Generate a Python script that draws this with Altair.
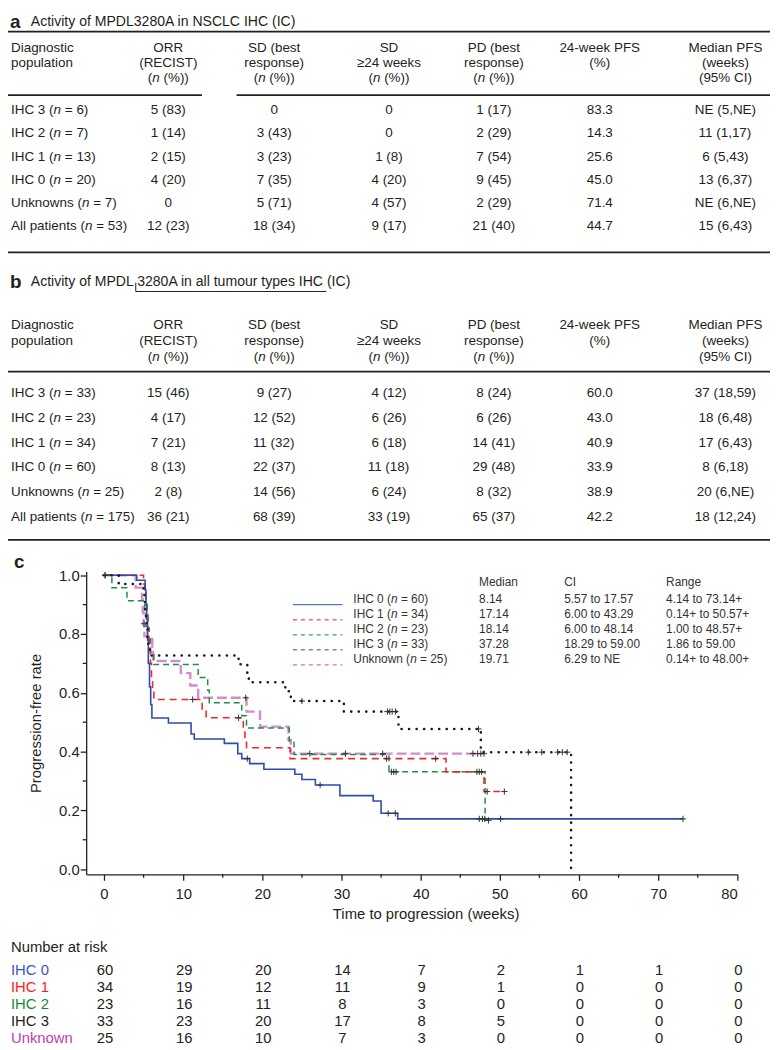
import re
import altair as alt
import pandas as pd

# ---------------- data: table a ----------------
A_TITLE = "Activity of MPDL3280A in NSCLC IHC (IC)"
A_LABELS = ["IHC 3 (n = 6)", "IHC 2 (n = 7)", "IHC 1 (n = 13)", "IHC 0 (n = 20)",
            "Unknowns (n = 7)", "All patients (n = 53)"]
A_ORR = ["5 (83)", "1 (14)", "2 (15)", "4 (20)", "0", "12 (23)"]
A_SD = ["0", "3 (43)", "3 (23)", "7 (35)", "5 (71)", "18 (34)"]
A_SD24 = ["0", "0", "1 (8)", "4 (20)", "4 (57)", "9 (17)"]
A_PD = ["1 (17)", "2 (29)", "7 (54)", "9 (45)", "2 (29)", "21 (40)"]
A_PFS24 = ["83.3", "14.3", "25.6", "45.0", "71.4", "44.7"]
A_MED = ["NE (5,NE)", "11 (1,17)", "6 (5,43)", "13 (6,37)", "NE (6,NE)", "15 (6,43)"]

# ---------------- data: table b ----------------
B_TITLE = "Activity of MPDL 3280A in all tumour types IHC (IC)"
B_LABELS = ["IHC 3 (n = 33)", "IHC 2 (n = 23)", "IHC 1 (n = 34)", "IHC 0 (n = 60)",
            "Unknowns (n = 25)", "All patients (n = 175)"]
B_ORR = ["15 (46)", "4 (17)", "7 (21)", "8 (13)", "2 (8)", "36 (21)"]
B_SD = ["9 (27)", "12 (52)", "11 (32)", "22 (37)", "14 (56)", "68 (39)"]
B_SD24 = ["4 (12)", "6 (26)", "6 (18)", "11 (18)", "6 (24)", "33 (19)"]
B_PD = ["8 (24)", "6 (26)", "14 (41)", "29 (48)", "8 (32)", "65 (37)"]
B_PFS24 = ["60.0", "43.0", "40.9", "33.9", "38.9", "42.2"]
B_MED = ["37 (18,59)", "18 (6,48)", "17 (6,43)", "8 (6,18)", "20 (6,NE)", "18 (12,24)"]

HEADERS = [["Diagnostic", "population"],
           ["ORR", "(RECIST)", "(n (%))"],
           ["SD (best", "response)", "(n (%))"],
           ["SD", "\u226524 weeks", "(n (%))"],
           ["PD (best", "response)", "(n (%))"],
           ["24-week PFS", "(%)"],
           ["Median PFS", "(weeks)", "(95% CI)"]]

# ---------------- data: Kaplan-Meier (weeks, progression-free rate) ----------------
GROUPS = ["IHC 0", "IHC 1", "IHC 2", "IHC 3", "Unknown"]

IHC0_T = [0, 4.14, 5.2, 5.3, 5.4, 5.5, 5.6, 5.75, 5.9, 6.05, 8.14, 11.0, 11.4, 15.2, 16.9, 17.4,
          18.4, 20.2, 24.1, 25.0, 26.7, 29.8, 34.0, 35.0, 37.1, 73.14]
IHC0_S = [1.0, 0.983, 0.95, 0.90, 0.85, 0.78, 0.70, 0.62, 0.56, 0.514, 0.497, 0.46, 0.443, 0.428,
          0.393, 0.376, 0.359, 0.340, 0.323, 0.305, 0.286, 0.250, 0.232, 0.190, 0.171, 0.171]
IHC0_CT = [18.1, 27.3, 35.9, 36.8, 47.4, 47.8, 48.1, 50.1, 73.14]
IHC0_CS = [0.376, 0.286, 0.190, 0.190, 0.171, 0.171, 0.171, 0.171, 0.171]

IHC1_T = [0, 5.0, 5.14, 5.29, 5.43, 5.57, 5.71, 5.86, 6.0, 6.14, 6.3, 12.4, 12.9, 17.6, 17.8,
          18.0, 23.5, 43.2, 48.0, 50.57]
IHC1_S = [1.0, 0.97, 0.94, 0.91, 0.88, 0.82, 0.76, 0.70, 0.65, 0.607, 0.577, 0.545, 0.515, 0.48,
          0.445, 0.413, 0.376, 0.331, 0.264, 0.264]
IHC1_CT = [0.14, 11.2, 17.0, 35.7, 41.9, 48.4, 50.57]
IHC1_CS = [1.0, 0.577, 0.515, 0.376, 0.376, 0.264, 0.264]

IHC2_T = [0, 1.0, 2.9, 5.14, 5.29, 5.5, 5.86, 6.3, 11.9, 13.1, 13.3, 17.4, 18.0, 23.4, 24.0,
          36.0, 48.14, 48.57]
IHC2_S = [1.0, 0.957, 0.913, 0.87, 0.826, 0.783, 0.739, 0.696, 0.652, 0.609, 0.566, 0.522, 0.48,
          0.435, 0.39, 0.331, 0.166, 0.166]
IHC2_CT = [36.3, 36.6, 36.9, 47.1, 47.4, 47.7, 48.57]
IHC2_CS = [0.331, 0.331, 0.331, 0.331, 0.331, 0.331, 0.166]

IHC3_T = [0, 1.86, 5.0, 5.1, 5.2, 5.3, 5.4, 5.5, 5.6, 5.8, 17.0, 18.1, 18.3, 22.9, 23.6, 30.3,
          37.2, 47.6, 59.0]
IHC3_S = [1.0, 0.97, 0.939, 0.909, 0.879, 0.848, 0.818, 0.788, 0.758, 0.727, 0.697, 0.667, 0.636,
          0.605, 0.572, 0.536, 0.477, 0.398, 0.0]
IHC3_CT = [5.05, 25.0, 35.8, 36.1, 36.4, 36.8, 47.3, 53.6, 55.3, 57.3, 57.9, 58.5]
IHC3_CS = [0.835, 0.572, 0.536, 0.536, 0.536, 0.536, 0.477, 0.398, 0.398, 0.398, 0.398, 0.398]

UNK_T = [0, 4.0, 4.8, 4.9, 5.0, 5.1, 6.1, 6.2, 9.7, 10.9, 11.9, 18.0, 19.71, 23.3, 23.6, 48.0]
UNK_S = [1.0, 0.958, 0.917, 0.875, 0.833, 0.792, 0.75, 0.708, 0.667, 0.625, 0.583, 0.536, 0.485,
         0.44, 0.393, 0.393]
UNK_CT = [0.14, 17.9, 26.0, 30.5, 35.2, 46.6, 47.2, 47.6, 48.0]
UNK_CS = [1.0, 0.583, 0.393, 0.393, 0.393, 0.393, 0.393, 0.393, 0.393]

LEG_LABELS = ["IHC 0 (n = 60)", "IHC 1 (n = 34)", "IHC 2 (n = 23)", "IHC 3 (n = 33)", "Unknown (n = 25)"]
LEG_MEDIAN = ["8.14", "17.14", "18.14", "37.28", "19.71"]
LEG_CI = ["5.57 to 17.57", "6.00 to 43.29", "6.00 to 48.14", "18.29 to 59.00", "6.29 to NE"]
LEG_RANGE = ["4.14 to 73.14+", "0.14+ to 50.57+", "1.00 to 48.57+", "1.86 to 59.00", "0.14+ to 48.00+"]

# ---------------- data: number at risk ----------------
RISK_TIMES = [0, 10, 20, 30, 40, 50, 60, 70, 80]
RISK_IHC0 = [60, 29, 20, 14, 7, 2, 1, 1, 0]
RISK_IHC1 = [34, 19, 12, 11, 9, 1, 0, 0, 0]
RISK_IHC2 = [23, 16, 11, 8, 3, 0, 0, 0, 0]
RISK_IHC3 = [33, 23, 20, 17, 8, 5, 0, 0, 0]
RISK_UNK = [25, 16, 10, 7, 3, 0, 0, 0, 0]

# ---------------- layout / style ----------------
FONT = "Liberation Sans"
INK = "#231f20"
PX0, PY0 = 87, 572          # page position of the plot area's top-left corner
W, H = 658, 306             # plot area size
X_DOM = [-2.25, 80]
Y_DOM = [-0.0178, 1.0125]
COL_X = [11, 170, 277, 393, 499, 606, 733]
T_SIZE = 13.6
RISK_LABEL_COLORS = ["#3a55c0", "#ff1a1a", "#13893a", INK, "#c040ae"]

AW = {' ': 278, '!': 278, '(': 333, ')': 333, '+': 584, ',': 278, '-': 333, '.': 278, '/': 278,
      '=': 584, '%': 889, '\u2265': 549,
      'A': 667, 'B': 667, 'C': 722, 'D': 722, 'E': 667, 'F': 611, 'G': 778, 'H': 722, 'I': 278,
      'K': 667, 'L': 556, 'M': 833, 'N': 722, 'O': 778, 'P': 667, 'R': 722, 'S': 667, 'T': 611,
      'U': 722, 'W': 944,
      'a': 556, 'b': 556, 'c': 500, 'd': 556, 'e': 556, 'f': 278, 'g': 556, 'h': 556, 'i': 222,
      'j': 222, 'k': 500, 'l': 222, 'm': 833, 'n': 556, 'o': 556, 'p': 556, 'q': 556, 'r': 333,
      's': 500, 't': 278, 'u': 556, 'v': 500, 'w': 722, 'x': 500, 'y': 500, 'z': 500}
for _d in "0123456789":
    AW[_d] = 556


def tw(s, size):
    return sum(AW.get(ch, 556) for ch in s) * size / 1000.0


def seg_rows(s, x, y, size, align="left", color=INK, bold=False):
    parts = re.split(r'(?<=\()n(?= )', s)
    segs = []
    for i, p in enumerate(parts):
        if i:
            segs.append(("n", True))
        if p:
            segs.append((p, False))
    total = sum(tw(p, size) for p, _ in segs)
    cur = x if align == "left" else (x - total / 2 if align == "center" else x - total)
    out = []
    for p, it in segs:
        lead = len(p) - len(p.lstrip(' '))
        cur += tw(' ' * lead, size)
        q = p.strip(' ')
        if q:
            out.append(dict(px=cur, py=y, text=q, size=size, color=color, italic=it, bold=bold))
        cur += tw(p.lstrip(' '), size)
    return out


texts = []
rules = []


def add_table(head_y, head_step, row_y, row_step, labels, cols):
    for c, lines in enumerate(HEADERS):
        for k, line in enumerate(lines):
            texts.extend(seg_rows(line, COL_X[c], head_y + k * head_step, T_SIZE,
                                  "left" if c == 0 else "center"))
    for r, lab in enumerate(labels):
        y = row_y + r * row_step
        texts.extend(seg_rows(lab, COL_X[0], y, T_SIZE, "left"))
        for c, col in enumerate(cols, start=1):
            texts.extend(seg_rows(col[r], COL_X[c], y, T_SIZE, "center"))


# panel a
texts.extend(seg_rows("a", 10, 16.5, 19, bold=True))
texts.extend(seg_rows(A_TITLE, 31, 16.5, 14.2))
rules += [(0, 778, 26.5, 26.5, 1.8), (0, 204, 90.5, 90.5, 1.8), (239, 778, 90.5, 90.5, 1.8),
          (0, 778, 249.5, 249.5, 1.8)]
add_table(42.5, 15.6, 106, 23.33, A_LABELS, [A_ORR, A_SD, A_SD24, A_PD, A_PFS24, A_MED])

# panel b
texts.extend(seg_rows("b", 10, 279, 19, bold=True))
texts.extend(seg_rows(B_TITLE, 31, 279, 14.2))
u0 = 31 + tw("Activity of MPDL ", 14.2) - 2
u1 = 31 + tw("Activity of MPDL 3280A in all tumour types IHC", 14.2) + 2
rules += [(u0, u1, 289, 289, 1.0), (u0, u0, 280, 289, 1.0),
          (0, 778, 370, 370, 1.8), (0, 778, 540, 540, 1.8)]
add_table(323.3, 16, 391.7, 25, B_LABELS, [B_ORR, B_SD, B_SD24, B_PD, B_PFS24, B_MED])

# panel c letter, KM legend text, number-at-risk labels
texts.extend(seg_rows("c", 14, 562.5, 19, bold=True))
LEG_X = [357, 484, 570, 673]
for x, h in zip(LEG_X[1:], ["Median", "CI", "Range"]):
    texts.extend(seg_rows(h, x, 582.7, 12, color="#333333"))
for i in range(5):
    y = 600 + 15.2 * i
    for x, s in zip(LEG_X, [LEG_LABELS[i], LEG_MEDIAN[i], LEG_CI[i], LEG_RANGE[i]]):
        texts.extend(seg_rows(s, x, y, 12, color="#333333"))
texts.extend(seg_rows("Number at risk", 11, 951.7, 15))
for i, g in enumerate(GROUPS):
    texts.extend(seg_rows(g, 11, 975 + 17.05 * i, 15, color=RISK_LABEL_COLORS[i]))

tdf = pd.DataFrame(texts)
rdf = pd.DataFrame(rules, columns=["x1", "x2", "y1", "y2", "w"])

# page-pixel layout scales for decorations
XS = alt.Scale(domain=[PX0, PX0 + W], range=[0, W], nice=False, zero=False)
YS = alt.Scale(domain=[PY0, PY0 + H], range=[0, H], nice=False, zero=False)


def text_layer(df, style, weight):
    return alt.Chart(df).mark_text(align="left", baseline="middle", font=FONT,
                                   fontStyle=style, fontWeight=weight).encode(
        x=alt.X("px:Q", scale=XS, axis=None),
        y=alt.Y("py:Q", scale=YS, axis=None),
        text="text:N",
        size=alt.Size("size:Q", scale=None),
        color=alt.Color("color:N", scale=None))


deco_layers = [
    alt.Chart(rdf).mark_rule(color=INK).encode(
        x=alt.X("x1:Q", scale=XS, axis=None), x2="x2:Q",
        y=alt.Y("y1:Q", scale=YS, axis=None), y2="y2:Q",
        strokeWidth=alt.StrokeWidth("w:Q", scale=None)),
    text_layer(tdf[(~tdf.italic) & (~tdf.bold)], "normal", "normal"),
    text_layer(tdf[tdf.italic], "italic", "normal"),
    text_layer(tdf[tdf.bold], "normal", "bold"),
]
LEG_STYLE = [("#5a72c8", [1, 0], 1.3), ("#f06a6a", [4, 4], 1.3), ("#3aa060", [4, 4], 1.3),
             ("#444444", [4, 4], 1.0), ("#d070c8", [4, 4], 1.3)]
for i, (col, dash, wd) in enumerate(LEG_STYLE):
    ldf = pd.DataFrame({"x1": [296], "x2": [346], "y": [605.5 + 15.2 * i]})
    deco_layers.append(alt.Chart(ldf).mark_rule(color=col, strokeDash=dash, strokeWidth=wd).encode(
        x=alt.X("x1:Q", scale=XS, axis=None), x2="x2:Q", y=alt.Y("y:Q", scale=YS, axis=None)))

# ---------------- Kaplan-Meier plot ----------------
XK = alt.Scale(domain=X_DOM, nice=False, zero=False)
YK = alt.Scale(domain=Y_DOM, nice=False, zero=False)
AX_STYLE = dict(domainColor=INK, domainWidth=1.3, tickColor=INK, tickWidth=1.3, grid=False,
                labelFont=FONT, labelFontSize=15, labelColor=INK, titleFont=FONT,
                titleFontSize=15, titleFontWeight="normal", titleColor=INK)
x_axis = alt.Axis(values=RISK_TIMES, title="Time to progression (weeks)", tickSize=6,
                  labelPadding=6, titlePadding=6, titleX=343, titleAlign="center",
                  orient="bottom", **AX_STYLE)
y_axis = alt.Axis(values=[0, 0.2, 0.4, 0.6, 0.8, 1.0], format=".1f", title="Progression-free rate",
                  tickSize=6, labelPadding=1, titlePadding=15, orient="left", **AX_STYLE)

series = {
    "IHC 0": (IHC0_T, IHC0_S, IHC0_CT, IHC0_CS),
    "IHC 1": (IHC1_T, IHC1_S, IHC1_CT, IHC1_CS),
    "IHC 2": (IHC2_T, IHC2_S, IHC2_CT, IHC2_CS),
    "IHC 3": (IHC3_T, IHC3_S, IHC3_CT, IHC3_CS),
    "Unknown": (UNK_T, UNK_S, UNK_CT, UNK_CS),
}
LINE_STYLE = {
    "Unknown": dict(color="#d58ccc", strokeWidth=2.4, strokeDash=[10, 4]),
    "IHC 2": dict(color="#1f8f45", strokeWidth=1.5, strokeDash=[6, 4]),
    "IHC 1": dict(color="#ee2a2a", strokeWidth=1.6, strokeDash=[7, 5]),
    "IHC 0": dict(color="#2f4ab0", strokeWidth=1.6),
    "IHC 3": dict(color="#1a1a1a", strokeWidth=2.6, strokeDash=[0.1, 7.5], strokeCap="round"),
}

# axis carrier layer (draws the axes only)
axis_layer = alt.Chart(pd.DataFrame({"t": [0.0], "s": [0.0]})).mark_point(opacity=0).encode(
    x=alt.X("t:Q", scale=XK, axis=x_axis), y=alt.Y("s:Q", scale=YK, axis=y_axis))

km_layers = []
for g in ["Unknown", "IHC 2", "IHC 1", "IHC 0", "IHC 3"]:
    T, S, _, _ = series[g]
    km_layers.append(alt.Chart(pd.DataFrame({"t": T, "s": S})).mark_line(
        interpolate="step-after", **LINE_STYLE[g]).encode(
        x=alt.X("t:Q", scale=XK, axis=None), y=alt.Y("s:Q", scale=YK, axis=None)))

cens = pd.concat([pd.DataFrame({"t": series[g][2], "s": series[g][3], "g": g}) for g in GROUPS])
km_layers.append(alt.Chart(cens).mark_point(
    shape="M-1,0L1,0M0,-1L0,1", size=40, filled=False, color="#333333", strokeWidth=1,
    opacity=1).encode(x=alt.X("t:Q", scale=XK, axis=None), y=alt.Y("s:Q", scale=YK, axis=None)))

# minor ticks
Y_MINOR = [0.1, 0.3, 0.5, 0.7, 0.9]
X_MINOR = [5, 15, 25, 35, 45, 55, 65, 75]
km_layers.append(alt.Chart(pd.DataFrame({"v": Y_MINOR, "x0": X_DOM[0]})).mark_rule(
    color=INK, strokeWidth=1.3, xOffset=-3.5, x2Offset=0).encode(
    y=alt.Y("v:Q", scale=YK, axis=None),
    x=alt.X("x0:Q", scale=XK, axis=None), x2="x0:Q"))
km_layers.append(alt.Chart(pd.DataFrame({"v": X_MINOR, "y0": Y_DOM[0]})).mark_rule(
    color=INK, strokeWidth=1.3, yOffset=0, y2Offset=3.5).encode(
    x=alt.X("v:Q", scale=XK, axis=None),
    y=alt.Y("y0:Q", scale=YK, axis=None), y2="y0:Q"))

# ---------------- number at risk (on the time axis) ----------------
risk_df = pd.concat([pd.DataFrame({"t": RISK_TIMES, "n": v, "g": g})
                     for g, v in zip(GROUPS, [RISK_IHC0, RISK_IHC1, RISK_IHC2, RISK_IHC3, RISK_UNK])])
risk = alt.Chart(risk_df).mark_text(font=FONT, fontSize=15, color=INK, align="center",
                                    baseline="middle", dx=1).encode(
    x=alt.X("t:Q", scale=XK, axis=None),
    y=alt.Y("g:N", scale=alt.Scale(type="point", domain=GROUPS,
                                   range=[975 - PY0, 975 + 4 * 17.05 - PY0], padding=0), axis=None),
    text="n:Q")

chart = alt.layer(axis_layer, *km_layers, *deco_layers, risk).resolve_scale(
    x="independent", y="independent").properties(
    width=W, height=H,
    padding={"left": PX0 - 8, "top": PY0 - 8, "right": 778 - PX0 - W, "bottom": 1050 - PY0 - H},
    autosize=alt.AutoSizeParams(type="none"),
    background="white",
).configure_view(stroke=None)

chart.save("out.html", embed_options={"renderer": "svg", "actions": False})
